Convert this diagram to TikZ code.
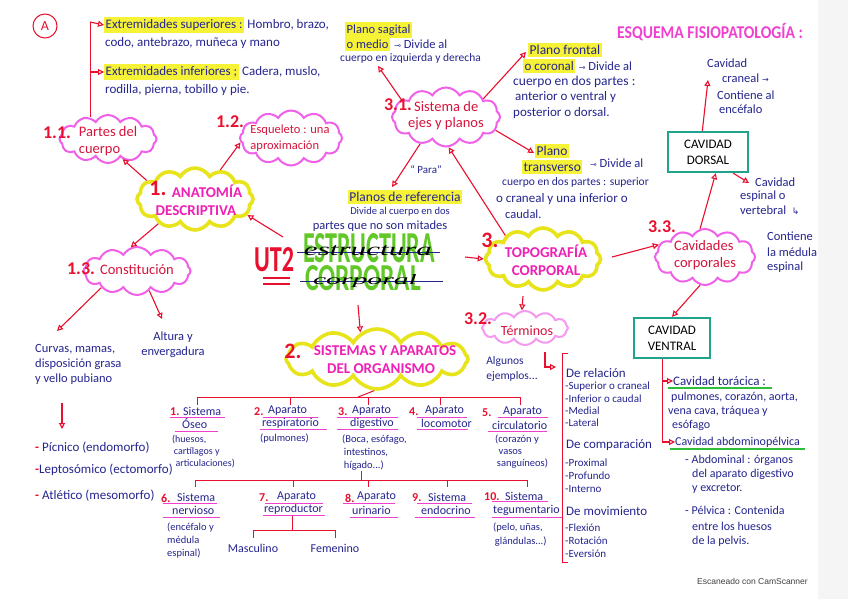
\documentclass[tikz,border=0pt]{standalone}
\usepackage{fontspec}
\setmainfont{Carlito}
\newfontfamily\dejavu{DejaVu Sans}
\newfontfamily\cursf{Liberation Serif}
\newfontfamily\scanf{Liberation Sans}
\usetikzlibrary{shapes.symbols,arrows.meta,positioning,calc}
\definecolor{navy}{HTML}{25258F}
\definecolor{redc}{HTML}{E8102E}
\definecolor{crim}{HTML}{D4143C}
\definecolor{pinkc}{HTML}{F060E8}
\definecolor{yel}{HTML}{E8E41C}
\definecolor{magt}{HTML}{F020B4}
\definecolor{hl}{HTML}{F6F235}
\definecolor{greenT}{HTML}{62C828}
\definecolor{tealc}{HTML}{1FA38C}
\definecolor{greenU}{HTML}{2EBE3A}
\definecolor{pinku}{HTML}{F040D0}
\newcommand{\fz}[1]{\fontsize{#1}{#1}\selectfont}
\tikzset{
  bt/.style={text=navy, inner sep=0pt, anchor=west, font=\fontsize{12.5}{15}\selectfont},
  it/.style={bt, font=\fontsize{12}{14}\selectfont},
  pt/.style={bt, font=\fontsize{10.5}{13}\selectfont},
  lt/.style={bt, font=\fontsize{11}{13}\selectfont},
  hlt/.style={bt, fill=hl, inner xsep=1.5pt, inner ysep=2.5pt},
  cl/.style={cloud, cloud puffs=12, cloud puff arc=120, cloud ignores aspect, draw=pinkc, line width=2pt, inner sep=0pt},
  clt/.style={text=crim, align=left, inner sep=0pt, font=\fontsize{14.5}{17}\selectfont},
  ycl/.style={cl, draw=yel, line width=3.6pt},
  yclt/.style={text=magt, align=center, inner sep=0pt, font=\bfseries\fontsize{15}{18}\selectfont},
  num/.style={text=redc, inner sep=0pt, font=\bfseries\fontsize{18}{18}\selectfont},
  bignum/.style={num, font=\bfseries\fontsize{22}{22}\selectfont},
  inum/.style={num, anchor=west, font=\bfseries\fontsize{12}{12}\selectfont},
  arr/.style={draw=redc, line width=1.1pt, -{Triangle[open, length=6pt, width=6pt]}},
  ln/.style={draw=redc, line width=1pt},
  ul/.style={draw=pinku, line width=1pt},
  gul/.style={draw=greenU, line width=1.6pt},
  tbox/.style={draw=tealc, line width=2.4pt, text=black, align=center, inner sep=0pt, font=\fontsize{13}{16}\selectfont}
}
\begin{document}
\begin{tikzpicture}[x=1pt,y=-1pt]
\useasboundingbox (0,0) rectangle (848,599);
\fill[white] (0,0) rectangle (848,599);
\fill[black!4] (818,0) rectangle (848,599);

% ---------- top left ----------
\node[circle, draw=redc, line width=1pt, text=redc, minimum size=24pt, inner sep=0pt, font=\fz{14}] (A) at (45,26) {A};
\node[hlt, font=\fz{13}] (es) at (104,25) {Extremidades superiores :};
\node[bt, font=\fz{13}, right=3pt of es] (es2) {Hombro, brazo,};
\node[bt, font=\fz{13}] (es3) at (105,43) {codo, antebrazo, muñeca y mano};
\node[hlt, font=\fz{13}] (ei) at (104,72) {Extremidades inferiores ;};
\node[bt, font=\fz{13}, right=3pt of ei] (ei2) {Cadera, muslo,};
\node[bt, font=\fz{13}] (ei3) at (105,90) {rodilla, pierna, tobillo y pie.};

% ---------- anatomia ----------
\node[cl, minimum width=97pt, minimum height=48pt] (c11) at (108,139) {};
\node[clt] (c11t) at (108,141) {Partes del\\cuerpo};
\node[num] (n11) at (57,133) {1.1.};
\node[cl, minimum width=102pt, minimum height=55pt] (c12) at (291,138) {};
\node[clt, font=\fontsize{12.5}{16}\selectfont] (c12t) at (290,138) {Esqueleto : una\\aproximación};
\node[num] (n12) at (230,122) {1.2.};
\node[ycl, minimum width=116pt, minimum height=62pt] (anat) at (195,199) {};
\node[yclt] (anatt) at (196,200) {\hspace{22pt}ANATOMÍA\\DESCRIPTIVA};
\node[bignum] (n1) at (158,188) {1.};
\node[cl, minimum width=107pt, minimum height=48pt] (c13) at (137,271) {};
\node[clt] (c13t) at (137,270) {Constitución};
\node[num] (n13) at (81,269) {1.3.};

\coordinate (ttop) at (90,22);
\coordinate (tbrn) at (90,72);
\draw[ln] (ttop) -- (90,117);
\draw[arr] (ttop) -- (es.west);
\draw[arr] (tbrn) -- (ei.west);

\draw[arr] (anat.159) -- (c11.-54);
\draw[arr] (anat.49) -- (c12.185);
\coordinate (ea) at (283,237);
\draw[arr] (ea) -- (anat.-17);
\draw[arr] (anat.214) -- (c13.105);

\node[bt, align=left] (curv) at (35,364) {Curvas, mamas,\\disposición grasa\\y vello pubiano};
\node[bt, align=center, anchor=center] (alt) at (173,345) {Altura y\\envergadura};
\coordinate (curvT) at (57,331);
\coordinate (altT) at (162,319);
\draw[arr] (c13.205) -- (curvT);
\draw[arr] (c13.-58) -- (altT);
\coordinate (pa) at (62,403);
\coordinate (pb) at (62,429);
\draw[arr] (pa) -- (pb);
\node[bt, font=\fz{13}] (p1) at (35,448) {\textcolor{redc}{\textbf{-}} Pícnico (endomorfo)};
\node[bt, font=\fz{13}] (p2) at (35,470) {\textcolor{redc}{\textbf{-}}Leptosómico (ectomorfo)};
\node[bt, font=\fz{13}] (p3) at (35,496) {\textcolor{redc}{\textbf{-}} Atlético (mesomorfo)};

% ---------- title ----------
\node[text=redc, inner sep=0pt, font=\bfseries\fz{30}] (ut) at (274,260) {\resizebox{40pt}{24pt}{UT2}};
\draw[redc, line width=1.4pt] (263,278) -- (290,278);
\draw[redc, line width=1.4pt] (263,284) -- (290,284);
\node[text=greenT, inner sep=0pt, font=\bfseries\fz{44}] (estr) at (369,248) {\resizebox{132pt}{29pt}{ESTRUCTURA}};
\node[text=greenT, inner sep=0pt, font=\bfseries\fz{44}] (corp) at (363,278) {\resizebox{116pt}{25pt}{CORPORAL}};
\draw[navy, line width=0.8pt] (297,252) -- (440,252);
\draw[navy, line width=0.8pt] (300,281) -- (443,281);
\node[inner sep=0pt, font=\cursf\itshape\fz{15}] (estrc) at (368,251) {\resizebox{128pt}{10pt}{estructura}};
\node[inner sep=0pt, font=\cursf\itshape\fz{15}] (corpc) at (365,281) {\resizebox{104pt}{10pt}{corporal}};

% ---------- planos ----------
\node[hlt, anchor=center, font=\fz{13.5}] (pref) at (405,197) {Planos de referencia};
\node[bt, anchor=center, font=\fz{10.5}] (pref2) at (400,212) {Divide al cuerpo en dos};
\node[bt, anchor=center, font=\fz{12.5}] (pref3) at (380,226) {partes que no son mitades};
\node[bt, anchor=center, font=\fz{11}] (para) at (426,170) {“ Para”};

\node[cl, minimum width=108pt, minimum height=59pt] (c31) at (446,117) {};
\node[clt, font=\fontsize{14.5}{16}\selectfont] (c31t) at (446,116) {\hspace{6pt}Sistema de\\ejes y planos};
\node[num] (n31) at (398,105) {3.1.};

\node[hlt] (sag1) at (345,30) {Plano sagital};
\node[hlt] (sag2) at (345,44) {o medio};
\node[bt, right=4pt of sag2] (sag3) {{\dejavu\fz{8}⊸} Divide al};
\node[bt, font=\fz{11.5}] (sag4) at (340,58) {cuerpo en izquierda y derecha};

\node[hlt, font=\fz{13.5}] (fr1) at (528,50) {Plano frontal};
\node[hlt, font=\fz{13}] (fr2) at (523,66) {o coronal};
\node[bt, font=\fz{12.5}, right=3pt of fr2] (fr3) {{\dejavu\fz{8}⊸} Divide al};
\node[bt, font=\fz{13.5}] (fr4) at (513,82) {cuerpo en dos partes :};
\node[bt, font=\fz{13}] (fr5) at (515,97) {anterior o ventral y};
\node[bt, font=\fz{13}] (fr6) at (513,113) {posterior o dorsal.};

\node[hlt, font=\fz{13.5}] (tr1) at (535,151) {Plano};
\node[hlt, font=\fz{13.5}] (tr2) at (522,167) {transverso};
\node[bt] (tr3) at (590,163) {{\dejavu\fz{8}⊸} Divide al};
\node[bt, font=\fz{11.5}] (tr4) at (502,182) {cuerpo en dos partes : superior};
\node[bt, font=\fz{13}] (tr5) at (496,199) {o craneal y una inferior o};
\node[bt] (tr6) at (505,214) {caudal.};

\coordinate (sagT) at (378,66);
\coordinate (frT) at (526,52);
\coordinate (trT) at (534,153);
\coordinate (prefT) at (392,187);
\draw[arr] (c31.159) -- (sagT);
\draw[arr] (c31.26) -- (frT);
\draw[arr] (c31.-15) -- (trT);
\draw[arr] (c31.226) -- (prefT);

% ---------- topografia ----------
\node[ycl, minimum width=115pt, minimum height=62pt] (topo) at (543,259) {};
\node[yclt] (topot) at (546,260) {TOPOGRAFÍA\\CORPORAL};
\node[bignum] (n3) at (490,240) {3.};
\draw[arr] (topo.148) -- (c31.-85);
\coordinate (et) at (465,257);
\draw[arr] (et) -- (topo.180);

\node[cl, draw=pinkc!65, minimum width=86pt, minimum height=34pt] (terms) at (525,328) {};
\node[clt, font=\fz{14}] (termst) at (527,331) {Términos};
\node[num] (n32) at (478,319) {3.2.};
\coordinate (tt) at (523,296);
\draw[arr] (tt) -- (terms.100);
\node[bt, font=\fontsize{11.5}{15}\selectfont, align=left, anchor=center] (alg) at (512,369) {Algunos\\ejemplos...};
\coordinate (la1) at (545,352);
\coordinate (la2) at (556,367);
\draw[arr] (la1) |- (la2);
\draw[ln] (568,353) -- (562,353) -- (562,562) -- (568,562);

\node[bt, font=\fz{13}] (t1) at (566,373) {De relación};
\node[lt] (t2) at (565,387) {-Superior o craneal};
\node[lt] (t3) at (565,399) {-Inferior o caudal};
\node[lt] (t4) at (565,411) {-Medial};
\node[lt] (t5) at (565,423) {-Lateral};
\node[bt, font=\fz{13}] (t6) at (566,445) {De comparación};
\node[lt] (t7) at (565,463) {-Proximal};
\node[lt] (t8) at (565,476) {-Profundo};
\node[lt] (t9) at (565,489) {-Interno};
\node[bt, font=\fz{13}] (t10) at (566,511) {De movimiento};
\node[lt] (t11) at (565,528) {-Flexión};
\node[lt] (t12) at (565,541) {-Rotación};
\node[lt] (t13) at (565,554) {-Eversión};

% ---------- sistemas ----------
\node[ycl, minimum width=182pt, minimum height=60pt] (sist) at (377,359) {};
\node[yclt] (sistt) at (381,360) {\hspace{8pt}SISTEMAS Y APARATOS\\DEL ORGANISMO};
\node[bignum] (n2) at (293,351) {2.};
\coordinate (sd) at (358,305);
\draw[arr] (sd) -- (sist.122);

\draw[ln] (sist.265) -- (358,397);
\draw[ln] (197,405) -- (197,397) -- (520,397) -- (520,405);
\draw[ln] (290,397) -- (290,405);
\draw[ln] (368,397) -- (368,405);
\draw[ln] (440,397) -- (440,405);

% row 1
\node[inum] (s1n) at (170,412) {1.};
\node[it] (s1a) at (183,411) {Sistema};
\node[it] (s1b) at (182,424) {Óseo};
\node[pt, font=\fontsize{10}{12}\selectfont, align=left] (s1c) at (172,452) {(huesos,\\\,cartílagos y\\\,\,articulaciones)};
\draw[ul] (170,417) -- (225,417); \draw[ul] (175,431) -- (218,431);

\node[inum] (s2n) at (254,412) {2.};
\node[it] (s2a) at (268,411) {Aparato};
\node[it] (s2b) at (262,423) {respiratorio};
\node[pt] (s2c) at (260,439) {(pulmones)};
\draw[ul] (263,417) -- (318,417); \draw[ul] (260,429) -- (327,429);

\node[inum] (s3n) at (338,412) {3.};
\node[it] (s3a) at (352,411) {Aparato};
\node[it] (s3b) at (350,423) {digestivo};
\node[pt, align=left] (s3c) at (342,453) {(Boca, esófago,\\\,intestinos,\\\,hígado...)};
\draw[ul] (337,417) -- (398,417); \draw[ul] (337,429) -- (398,429);

\node[inum] (s4n) at (409,412) {4.};
\node[it] (s4a) at (425,411) {Aparato};
\node[it] (s4b) at (421,423) {locomotor};
\draw[ul] (417,417) -- (467,417); \draw[ul] (417,429) -- (468,429);

\node[inum] (s5n) at (482,413) {5.};
\node[it] (s5a) at (503,412) {Aparato};
\node[it] (s5b) at (492,425) {circulatorio};
\node[pt, font=\fontsize{10.5}{12}\selectfont, align=left] (s5c) at (495,452) {(corazón y\\\,\,vasos\\\,sanguíneos)};
\draw[ul] (498,417) -- (548,417); \draw[ul] (488,431) -- (547,431);

% row 2
\draw[ln] (s3c.south -| 361,0) -- (361,480);
\draw[ln] (195,487) -- (195,480) -- (527,480) -- (527,487);
\draw[ln] (293,480) -- (293,487);
\draw[ln] (368,480) -- (368,487);
\draw[ln] (447,480) -- (447,487);

\node[inum] (s6n) at (161,498) {6.};
\node[it] (s6a) at (177,497) {Sistema};
\node[it] (s6b) at (172,510) {nervioso};
\node[pt, align=left] (s6c) at (167,541) {(encéfalo y\\médula\\espinal)};
\draw[ul] (163,503) -- (217,503); \draw[ul] (163,517) -- (220,517);

\node[inum] (s7n) at (259,498) {7.};
\node[it] (s7a) at (277,497) {Aparato};
\node[it] (s7b) at (264,509) {reproductor};
\draw[ul] (265,503) -- (323,503); \draw[ul] (263,515) -- (325,515);
\node[it, anchor=center] (masc) at (253,548) {Masculino};
\node[it, anchor=center] (fem) at (335,548) {Femenino};
\draw[ln] (292,516) -- (292,530);
\draw[ln] (masc.north |- 0,538) -- (masc.north |- 0,530) -- (fem.north |- 0,530) -- (fem.north |- 0,538);

\node[inum] (s8n) at (345,498) {8.};
\node[it] (s8a) at (357,497) {Aparato};
\node[it] (s8b) at (352,510) {urinario};
\draw[ul] (343,503) -- (395,503); \draw[ul] (350,517) -- (398,517);

\node[inum] (s9n) at (412,498) {9.};
\node[it] (s9a) at (428,497) {Sistema};
\node[it] (s9b) at (421,510) {endocrino};
\draw[ul] (417,503) -- (472,503); \draw[ul] (415,517) -- (475,517);

\node[inum] (s10n) at (484,497) {10.};
\node[it] (s10a) at (505,496) {Sistema};
\node[it] (s10b) at (493,510) {tegumentario};
\node[pt, font=\fontsize{10.5}{14}\selectfont, align=left] (s10c) at (493,535) {(pelo, uñas,\\\,glándulas...)};
\draw[ul] (492,501) -- (548,501); \draw[ul] (492,517) -- (562,517);

% ---------- right side ----------
\node[text=pinku, inner sep=0pt, anchor=west, font=\bfseries\fz{18}] (esq) at (617,32) {\scalebox{0.87}[1]{ESQUEMA FISIOPATOLOGÍA :}};

\node[bt] (cc1) at (707,63) {Cavidad};
\node[bt] (cc2) at (722,78) {craneal {\dejavu\fz{8}→}};
\node[bt] (cc3) at (717,95) {Contiene al};
\node[bt] (cc4) at (719,109) {encéfalo};

\node[tbox, minimum width=80pt, minimum height=40pt] (dors) at (708,152) {CAVIDAD\\DORSAL};
\coordinate (ccT) at (708,80);
\draw[arr] (dors.105) -- (ccT);

\node[bt] (ce1) at (755,182) {Cavidad};
\node[bt] (ce2) at (740,196) {espinal o};
\node[bt] (ce3) at (740,210) {vertebral \hspace{3pt}{\dejavu\fz{9}↳}};
\coordinate (ceT) at (749,183);
\draw[arr] (dors.-40) -- (ceT);
\node[bt] (cm1) at (767,236) {Contiene};
\node[bt] (cm2) at (767,252) {la médula};
\node[bt] (cm3) at (767,267) {espinal};

\node[cl, minimum width=100pt, minimum height=56pt] (cav) at (705,257) {};
\node[clt] (cavt) at (705,255) {Cavidades\\corporales};
\node[num] (n33) at (662,227) {3.3.};
\draw[arr] (cav.100) -- (dors.-70);
\coordinate (tc) at (612,257);
\draw[arr] (tc) -- (cav.165);

\node[tbox, minimum width=76pt, minimum height=40pt] (vent) at (672,338) {CAVIDAD\\VENTRAL};
\draw[arr] (cav.-100) -- (vent.north);

\node[bt, font=\fz{13}] (vt1) at (673,381) {Cavidad torácica :};
\node[bt, font=\fz{12}] (vt2) at (671,397) {pulmones, corazón, aorta,};
\node[bt, font=\fz{12}] (vt3) at (668,411) {vena cava, tráquea y};
\node[bt, font=\fz{12}] (vt4) at (672,425) {esófago};
\node[bt, font=\fz{12}] (va1) at (675,442) {Cavidad abdominopélvica};
\node[bt, font=\fz{12}] (va2) at (685,460) {- Abdominal : órganos};
\node[bt, font=\fz{12}] (va3) at (692,474) {del aparato digestivo};
\node[bt, font=\fz{12}] (va4) at (692,489) {y excretor.};
\node[bt, font=\fz{12}] (va5) at (685,510) {- Pélvica : Contenida};
\node[bt, font=\fz{12}] (va6) at (692,526) {entre los huesos};
\node[bt, font=\fz{12}] (va7) at (692,541) {de la pelvis.};
\draw[gul] (668,388) -- (772,388);
\draw[gul] (670,449) -- (805,449);
\draw[ln] (vent.south -| 662,0) -- (662,442);
\draw[arr] (662,381) -- (vt1.west);
\draw[arr] (662,442) -- (va1.west);

\node[text=black!75, inner sep=0pt, anchor=west, font=\scanf\fz{8.5}] (scan) at (697,581) {Escaneado con CamScanner};
\end{tikzpicture}
\end{document}
